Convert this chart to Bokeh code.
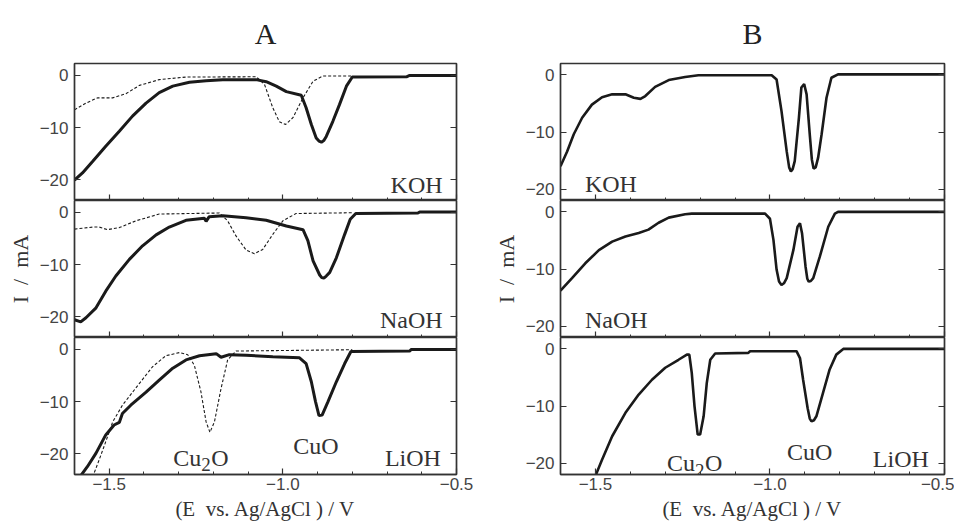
from bokeh.plotting import figure
from bokeh.layouts import row, column
from bokeh.models import Range1d, FixedTicker, LinearAxis, CustomJSTickFormatter
from bokeh.core.properties import value
from bokeh.embed import file_html
from bokeh.resources import INLINE

# ---------------- data (E / V vs Ag/AgCl, I / mA) ----------------
X_MAJOR = [-1.5, -1.0, -0.5]
X_MINOR = [-1.6, -1.5, -1.4, -1.3, -1.2, -1.1, -1.0, -0.9, -0.8, -0.7, -0.6, -0.5]
Y_TICKS = [0, -10, -20]
ELECTROLYTES = ["KOH", "NaOH", "LiOH"]
PEAK_LABELS = ["Cu", "2", "O", "CuO"]

# Panel A, KOH
a_koh_E = [-1.6, -1.577, -1.548, -1.51, -1.471, -1.433, -1.394, -1.356, -1.317, -1.269, -1.221,
           -1.173, -1.077, -1.048, -1.019, -0.99, -0.947, -0.933, -0.918, -0.904, -0.896, -0.889,
           -0.882, -0.875, -0.856, -0.837, -0.817, -0.8, -0.644, -0.635, -0.5]
a_koh_I = [-20.1, -18.7, -16.5, -13.6, -10.7, -7.8, -5.3, -3.3, -2.05, -1.3, -1.0,
           -0.8, -0.8, -1.2, -2.05, -3.1, -3.8, -6.2, -9.4, -12.0, -12.6, -12.8,
           -12.5, -11.7, -8.8, -5.6, -2.05, -0.3, -0.25, 0.0, 0.0]
a_koh_ref_E = [-1.6, -1.567, -1.534, -1.49, -1.452, -1.413, -1.356, -1.279, -1.077, -1.053, -1.029,
               -1.01, -0.992, -0.971, -0.942, -0.913, -0.885, -0.8]
a_koh_ref_I = [-6.6, -5.3, -4.3, -4.3, -3.5, -1.9, -0.8, -0.3, -0.25, -1.7, -6.2,
               -8.9, -9.4, -8.1, -4.3, -1.1, -0.1, -0.1]

# Panel A, NaOH
a_naoh_E = [-1.6, -1.582, -1.567, -1.538, -1.51, -1.481, -1.442, -1.404, -1.365, -1.327, -1.279,
            -1.226, -1.221, -1.212, -1.173, -1.106, -1.048, -0.99, -0.942, -0.928, -0.913, -0.894,
            -0.888, -0.882, -0.875, -0.865, -0.846, -0.822, -0.806, -0.79, -0.611, -0.606, -0.5]
a_naoh_I = [-20.6, -21.0, -20.2, -18.3, -15.1, -12.2, -9.0, -6.4, -4.3, -2.8, -1.5,
            -1.1, -1.7, -0.8, -0.65, -1.0, -1.5, -2.6, -3.3, -5.4, -9.3, -12.0,
            -12.5, -12.6, -12.2, -11.5, -8.7, -4.2, -1.3, -0.2, -0.1, 0.1, 0.1]
a_naoh_ref_E = [-1.6, -1.548, -1.529, -1.505, -1.471, -1.423, -1.356, -1.183, -1.159, -1.135, -1.106,
                -1.082, -1.058, -1.029, -1.0, -0.962, -0.8]
a_naoh_ref_I = [-3.2, -2.8, -2.8, -3.3, -2.9, -1.6, -0.3, -0.1, -1.6, -4.5, -7.2,
                -7.9, -7.1, -4.2, -1.6, -0.2, -0.05]

# Panel A, LiOH
a_lioh_E = [-1.585, -1.563, -1.538, -1.51, -1.486, -1.471, -1.462, -1.438, -1.394, -1.356, -1.317,
            -1.279, -1.24, -1.192, -1.178, -1.154, -1.106, -1.029, -0.952, -0.933, -0.918, -0.906,
            -0.896, -0.887, -0.87, -0.846, -0.822, -0.804, -0.635, -0.63, -0.5]
a_lioh_I = [-24.5, -22.5, -19.9, -16.4, -14.5, -14.0, -12.3, -10.7, -8.2, -5.9, -3.6,
            -2.0, -1.2, -0.8, -1.5, -1.0, -1.1, -1.4, -1.6, -2.7, -6.2, -10.0,
            -12.7, -12.6, -10.0, -6.2, -2.7, -0.4, -0.3, 0.0, 0.0]
a_lioh_ref_E = [-1.548, -1.529, -1.51, -1.49, -1.462, -1.413, -1.375, -1.337, -1.298, -1.274, -1.255,
                -1.236, -1.221, -1.21, -1.197, -1.178, -1.159, -1.135, -0.8]
a_lioh_ref_I = [-24.5, -21.2, -17.7, -13.9, -10.7, -6.5, -3.3, -1.2, -0.6, -1.0, -3.0,
                -8.1, -13.9, -15.9, -13.9, -7.5, -2.0, -0.3, -0.05]

# Panel B
b_koh_E = [-1.6, -1.581, -1.562, -1.538, -1.51, -1.481, -1.452, -1.414, -1.39, -1.371, -1.357,
           -1.329, -1.29, -1.243, -1.205, -0.995, -0.981, -0.967, -0.952, -0.945, -0.94, -0.935,
           -0.929, -0.917, -0.91, -0.902, -0.895, -0.886, -0.88, -0.875, -0.869, -0.862, -0.852,
           -0.838, -0.824, -0.805, -0.5]
b_koh_I = [-16.0, -13.4, -10.4, -7.5, -5.2, -3.9, -3.4, -3.4, -4.0, -4.2, -3.7,
           -2.1, -0.9, -0.35, -0.05, -0.05, -0.8, -6.3, -13.4, -16.2, -16.9, -16.5,
           -15.1, -7.5, -2.2, -1.6, -3.4, -10.4, -14.8, -16.4, -16.2, -14.5, -10.4,
           -4.0, -0.5, 0.1, 0.1]
b_naoh_E = [-1.6, -1.567, -1.529, -1.49, -1.452, -1.414, -1.376, -1.348, -1.319, -1.29, -1.243,
            -1.224, -1.014, -1.0, -0.99, -0.981, -0.974, -0.967, -0.96, -0.952, -0.933, -0.921,
            -0.914, -0.908, -0.898, -0.893, -0.889, -0.883, -0.876, -0.857, -0.833, -0.814, -0.805, -0.5]
b_naoh_I = [-13.8, -11.6, -9.0, -6.7, -5.2, -4.3, -3.7, -3.1, -1.9, -1.0, -0.4,
            -0.3, -0.3, -1.2, -4.9, -10.1, -12.2, -12.8, -12.5, -11.6, -6.7, -2.6,
            -2.0, -3.8, -9.6, -11.7, -12.2, -12.1, -11.6, -7.8, -2.6, -0.3, 0.0, 0.0]
b_lioh_E = [-1.505, -1.481, -1.452, -1.414, -1.376, -1.338, -1.3, -1.262, -1.238, -1.231, -1.224,
            -1.216, -1.207, -1.2, -1.19, -1.181, -1.171, -1.157, -1.062, -1.057, -0.924, -0.914,
            -0.905, -0.892, -0.886, -0.881, -0.874, -0.867, -0.848, -0.829, -0.81, -0.79, -0.5]
b_lioh_I = [-23.0, -19.4, -15.3, -11.2, -8.0, -5.4, -3.3, -1.9, -1.0, -1.0, -4.2,
            -10.1, -15.0, -15.0, -11.8, -6.0, -1.9, -0.8, -0.7, -0.4, -0.4, -1.6,
            -5.4, -10.4, -12.2, -12.7, -12.5, -11.8, -7.7, -3.6, -1.0, 0.0, 0.0]

X_LIM = (-1.6, -0.5)
YLIM_A = (-24.0, 2.3)
YLIM_B = (-22.0, 2.0)

# ---------------- styling helpers ----------------
INK = "#1a1a1a"
FRAME = "#333333"
TICK_FONT = "Liberation Sans"
SERIF = "Liberation Serif"
FRAME_H = 137
TICK_SIZE = "17px"


def yfmt():
    return CustomJSTickFormatter(code="return tick < 0 ? '\u2212' + Math.abs(tick) : String(tick);")


def xfmt():
    return CustomJSTickFormatter(code="return (tick < 0 ? '\u2212' : '') + Math.abs(tick).toFixed(1);")


def blank():
    return CustomJSTickFormatter(code="return '';")


def panel(ylim, frame_w, left, right, top, bottom, title=None, xlabel=None, ylabel=None):
    p = figure(frame_width=frame_w, frame_height=FRAME_H,
               x_range=Range1d(*X_LIM), y_range=Range1d(*ylim),
               output_backend="svg", toolbar_location=None,
               x_axis_location=None, y_axis_location=None,
               min_border_left=left, min_border_right=right,
               min_border_top=top, min_border_bottom=bottom)
    p.grid.visible = False
    p.outline_line_color = FRAME
    p.outline_line_width = 1.4
    p.background_fill_color = "white"
    p.border_fill_color = "white"
    if title:
        p.title.text = title
        p.title.align = "center"
        p.title.text_font = SERIF
        p.title.text_font_size = "30px"
        p.title.text_font_style = "normal"
        p.title.text_color = "#222222"
        p.title.standoff = 28

    # left axis (inward ticks)
    yl = LinearAxis(ticker=FixedTicker(ticks=Y_TICKS, minor_ticks=[]), formatter=yfmt())
    yl.major_tick_in = 6
    yl.major_tick_out = 0
    yl.minor_tick_in = 0
    yl.minor_tick_out = 0
    yl.major_label_standoff = 6
    yl.major_label_text_font = TICK_FONT
    yl.major_label_text_font_size = TICK_SIZE
    yl.major_label_text_color = "#444444"
    yl.axis_line_color = FRAME
    yl.axis_line_width = 1.4
    yl.major_tick_line_color = FRAME
    yl.major_tick_line_width = 1.2
    if ylabel:
        yl.axis_label = ylabel
        yl.axis_label_text_font = SERIF
        yl.axis_label_text_font_size = "22px"
        yl.axis_label_text_font_style = "normal"
        yl.axis_label_text_color = "#333333"
        yl.axis_label_standoff = 4
    p.add_layout(yl, "left")

    # right axis (inward ticks only)
    yr = LinearAxis(ticker=FixedTicker(ticks=Y_TICKS, minor_ticks=[]), formatter=blank())
    yr.major_tick_in = 6
    yr.major_tick_out = 0
    yr.minor_tick_in = 0
    yr.minor_tick_out = 0
    yr.major_label_standoff = 0
    yr.major_label_text_font_size = "1px"
    yr.axis_line_color = FRAME
    yr.axis_line_width = 1.4
    yr.major_tick_line_color = FRAME
    yr.major_tick_line_width = 1.2
    p.add_layout(yr, "right")

    # bottom axis (inward ticks)
    xb = LinearAxis(ticker=FixedTicker(ticks=X_MAJOR, minor_ticks=X_MINOR),
                    formatter=xfmt() if xlabel else blank())
    xb.major_tick_in = 6
    xb.major_tick_out = 0
    xb.minor_tick_in = 3
    xb.minor_tick_out = 0
    xb.axis_line_color = FRAME
    xb.axis_line_width = 1.4
    xb.major_tick_line_color = FRAME
    xb.minor_tick_line_color = FRAME
    xb.major_tick_line_width = 1.2
    xb.minor_tick_line_width = 1.0
    if xlabel:
        xb.major_label_standoff = 3
        xb.major_label_text_font = TICK_FONT
        xb.major_label_text_font_size = TICK_SIZE
        xb.major_label_text_color = "#444444"
        xb.axis_label = xlabel
        xb.axis_label_text_font = SERIF
        xb.axis_label_text_font_size = "21px"
        xb.axis_label_text_font_style = "normal"
        xb.axis_label_text_color = "#333333"
        xb.axis_label_standoff = 4
    else:
        xb.major_label_standoff = 0
        xb.major_label_text_font_size = "1px"
    p.add_layout(xb, "below")
    return p


def label(p, x, y, text, align):
    p.text(x=[x], y=[y], text=[text], text_font=value(SERIF), text_font_size="24px",
           text_align=align, text_baseline="alphabetic", text_color="#333333")


def cu2o(p, x, y):
    p.text(x=[x], y=[y], text=[PEAK_LABELS[0]], text_font=value(SERIF), text_font_size="24px",
           text_align="right", text_baseline="alphabetic", text_color="#333333")
    p.text(x=[x], y=[y], text=[PEAK_LABELS[1]], text_font=value(SERIF), text_font_size="19px",
           text_align="left", text_baseline="alphabetic", text_color="#333333", y_offset=7)
    p.text(x=[x], y=[y], text=[PEAK_LABELS[2]], text_font=value(SERIF), text_font_size="24px",
           text_align="left", text_baseline="alphabetic", text_color="#333333", x_offset=10)


XLABEL = "(E\u00a0\u00a0vs. Ag/AgCl\u00a0) / V"
YLABEL = "I\u2002/\u2002mA"
TOP = 63
BOT = 52

# ---------------- column A ----------------
a1 = panel(YLIM_A, 382, 74, 34, TOP, 0, title="A")
a1.line(a_koh_ref_E, a_koh_ref_I, line_color=INK, line_width=1.1, line_dash="3 2")
a1.line(a_koh_E, a_koh_I, line_color=INK, line_width=3)
label(a1, -0.54, -21.0, ELECTROLYTES[0], "right")

a2 = panel(YLIM_A, 382, 74, 34, 0, 0, ylabel=YLABEL)
a2.line(a_naoh_ref_E, a_naoh_ref_I, line_color=INK, line_width=1.1, line_dash="3 2")
a2.line(a_naoh_E, a_naoh_I, line_color=INK, line_width=3)
label(a2, -0.54, -20.6, ELECTROLYTES[1], "right")

a3 = panel(YLIM_A, 382, 74, 34, 0, BOT, xlabel=XLABEL)
a3.line(a_lioh_ref_E, a_lioh_ref_I, line_color=INK, line_width=1.1, line_dash="3 2")
a3.line(a_lioh_E, a_lioh_I, line_color=INK, line_width=3)
label(a3, -0.545, -20.8, ELECTROLYTES[2], "right")
cu2o(a3, -1.235, -20.8)
label(a3, -0.905, -18.6, PEAK_LABELS[3], "center")

# ---------------- column B ----------------
b1 = panel(YLIM_B, 384, 66, 14, TOP, 0, title="B")
b1.line(b_koh_E, b_koh_I, line_color=INK, line_width=2.6)
label(b1, -1.53, -19.1, ELECTROLYTES[0], "left")

b2 = panel(YLIM_B, 384, 66, 14, 0, 0, ylabel=YLABEL)
b2.line(b_naoh_E, b_naoh_I, line_color=INK, line_width=2.6)
label(b2, -1.53, -19.0, ELECTROLYTES[1], "left")

b3 = panel(YLIM_B, 384, 66, 14, 0, BOT, xlabel=XLABEL)
b3.line(b_lioh_E, b_lioh_I, line_color=INK, line_width=2.6)
label(b3, -0.545, -19.2, ELECTROLYTES[2], "right")
cu2o(b3, -1.215, -20.0)
label(b3, -0.886, -18.1, PEAK_LABELS[3], "center")

layout = row(column(a1, a2, a3), column(b1, b2, b3))

open("out.html", "w").write(file_html(layout, INLINE))
